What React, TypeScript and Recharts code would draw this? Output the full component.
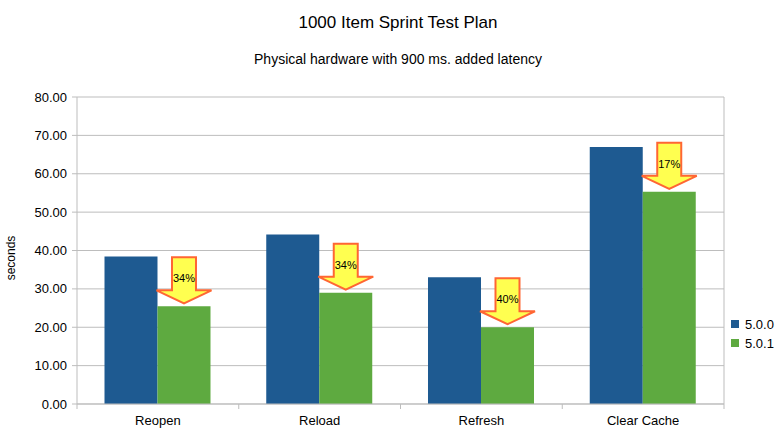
import { Bar, BarChart, CartesianGrid, LabelList, XAxis, YAxis } from "recharts";

const categories = ["Reopen", "Reload", "Refresh", "Clear Cache"];
const v500 = [38.45, 44.2, 33.0, 67.0];
const v501 = [25.45, 29.0, 20.0, 55.3];
const drops = ["34%", "34%", "40%", "17%"];
const yTicks = [0, 10, 20, 30, 40, 50, 60, 70, 80];

const data = categories.map((name, i) => ({ name, a: v500[i], b: v501[i] }));

const W = 780;
const H = 444;
const M = { top: 97, right: 56, left: 0, bottom: 0 };
const Y_W = 77;
const X_H = 40;
const HALF_BAND = (W - M.left - M.right - Y_W) / categories.length / 2;

const FONT = '"Liberation Sans", Arial, sans-serif';
const GRID = "#bdbdbd";
const BLUE = "#1e5a91";
const GREEN = "#5eaa40";

function XTick(props: any) {
  const { x, y, payload, index } = props;
  const axisY = y - 12;
  const last = index === categories.length - 1;
  return (
    <g>
      <line x1={x - HALF_BAND} x2={x - HALF_BAND} y1={axisY} y2={axisY + 5} stroke={GRID} />
      {last && <line x1={x + HALF_BAND} x2={x + HALF_BAND} y1={axisY} y2={axisY + 5} stroke={GRID} />}
      <text x={x} y={y} dy="0.71em" textAnchor="middle" fontSize={13} fill="#000" fontFamily={FONT}>
        {payload.value}
      </text>
    </g>
  );
}

function DropArrow(props: any) {
  const { x, y, width, index } = props;
  const cx = x + width / 2;
  const tip = y - 3;
  const top = tip - 46;
  const base = tip - 13;
  const hw = width / 2 + 1;
  const sw = 12;
  const d = `M${cx - sw},${top} L${cx + sw},${top} L${cx + sw},${base} L${cx + hw},${base} L${cx},${tip} L${cx - hw},${base} L${cx - sw},${base} Z`;
  return (
    <g>
      <path d={d} fill="#ffff50" stroke="#ff6633" strokeWidth={2} />
      <text x={cx} y={top + 21} dy="0.35em" textAnchor="middle" fontSize={11} fill="#000" fontFamily={FONT}>
        {drops[index]}
      </text>
    </g>
  );
}

export default function App() {
  return (
    <div style={{ position: "absolute", left: 0, top: 0, width: W, height: H, background: "#fff", fontFamily: FONT }}>
      <div style={{ position: "absolute", left: 198, top: 14, width: 400, textAlign: "center", fontSize: 17, lineHeight: "17px" }}>
        1000 Item Sprint Test Plan
      </div>
      <div style={{ position: "absolute", left: 198, top: 52, width: 400, textAlign: "center", fontSize: 14, lineHeight: "14px" }}>
        Physical hardware with 900 ms. added latency
      </div>
      <div
        style={{
          position: "absolute",
          left: 11 - 40,
          top: 258 - 8,
          width: 80,
          height: 16,
          lineHeight: "16px",
          textAlign: "center",
          fontSize: 12,
          transform: "rotate(-90deg)",
        }}
      >
        seconds
      </div>
      <BarChart width={W} height={H} data={data} margin={M} barCategoryGap="17%" barGap={0}>
        <CartesianGrid
          stroke={GRID}
          verticalCoordinatesGenerator={({ offset }: any) => [offset.left + offset.width]}
        />
        <XAxis
          dataKey="name"
          height={X_H}
          stroke={GRID}
          tickLine={false}
          tickSize={5}
          tickMargin={7}
          tick={<XTick />}
          interval={0}
        />
        <YAxis
          width={Y_W}
          domain={[0, 80]}
          ticks={yTicks}
          stroke={GRID}
          tickSize={5}
          tickMargin={5}
          tick={{ fill: "#000", fontSize: 13, fontFamily: FONT }}
          tickFormatter={(v: number) => v.toFixed(2)}
        />
        <Bar dataKey="a" name="5.0.0" fill={BLUE} isAnimationActive={false} />
        <Bar dataKey="b" name="5.0.1" fill={GREEN} isAnimationActive={false}>
          <LabelList dataKey="b" content={<DropArrow />} />
        </Bar>
      </BarChart>
      {[
        { label: "5.0.0", color: BLUE, y: 324 },
        { label: "5.0.1", color: GREEN, y: 343 },
      ].map((l) => (
        <div key={l.label} style={{ position: "absolute", left: 731, top: l.y - 8, height: 16, display: "flex", alignItems: "center", fontSize: 13 }}>
          <span style={{ display: "inline-block", width: 8, height: 8, background: l.color, marginRight: 6 }} />
          {l.label}
        </div>
      ))}
    </div>
  );
}
